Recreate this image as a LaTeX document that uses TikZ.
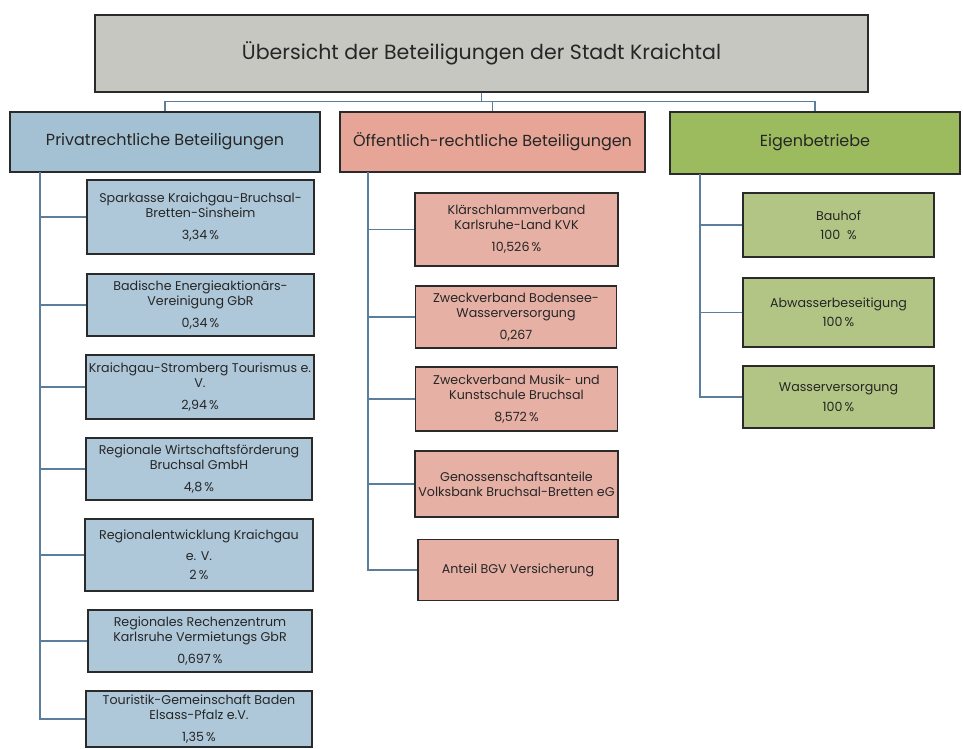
\documentclass[tikz,border=0pt]{standalone}
\usepackage{fontspec}
\setmainfont{Poppins}
\definecolor{titlegray}{HTML}{C6C7C0}
\definecolor{bluehead}{HTML}{A3C1D3}
\definecolor{bluebox}{HTML}{AEC8D9}
\definecolor{pinkhead}{HTML}{E6A596}
\definecolor{pinkbox}{HTML}{E6B0A5}
\definecolor{greenhead}{HTML}{9CBA5E}
\definecolor{greenbox}{HTML}{B2C584}
\definecolor{connc}{HTML}{5B7E9C}
\definecolor{edgec}{HTML}{2A2A2A}
\tikzset{
  sz/.style 2 args={minimum width=#1*0.75pt, minimum height=#2*0.75pt},
  basebox/.style={draw=edgec, line width=1.1pt, inner sep=1pt, align=center, text=black!85},
  titlebox/.style={basebox, fill=titlegray, font=\fontsize{15.4}{18}\selectfont},
  headbox/.style={basebox, font=\fontsize{12}{14}\selectfont},
  childbox/.style={basebox, font=\fontsize{9.5}{11.5}\selectfont},
  conn/.style={draw=connc, line width=1pt},
}
\begin{document}
\begin{tikzpicture}[x=0.75pt,y=-0.75pt]
\path[use as bounding box, fill=white] (0,0) rectangle (963,749);

% title
\node[titlebox, sz={773}{77}] (title) at (481.5,53.5) {Übersicht der Beteiligungen der Stadt Kraichtal};

% headers
\node[headbox, fill=bluehead, sz={310}{60}] (h1) at (165,142) {Privatrechtliche Beteiligungen};
\node[headbox, fill=pinkhead, sz={305}{60}] (h2) at (492.5,142) {Öffentlich-rechtliche Beteiligungen};
\node[headbox, fill=greenhead, sz={290}{62}] (h3) at (815,143) {Eigenbetriebe};

\draw[conn] (title.south) -- ++(0,9) -| (h1.north);
\draw[conn] (title.south) -- ++(0,9) -| (h2.north);
\draw[conn] (title.south) -- ++(0,9) -| (h3.north);

% private children
\node[childbox, fill=bluebox, sz={227}{74}] (p1) at (200.5,217) {Sparkasse Kraichgau-Bruchsal-\\Bretten-Sinsheim\\[5pt]3,34\,\%};
\node[childbox, fill=bluebox, sz={227}{62}] (p2) at (200.5,305) {Badische Energieaktionärs-\\Vereinigung GbR\\[5pt]0,34\,\%};
\node[childbox, fill=bluebox, sz={228}{64}] (p3) at (200,387) {Kraichgau-Stromberg Tourismus e.\\V.\\[5pt]2,94\,\%};
\node[childbox, fill=bluebox, sz={226}{62}] (p4) at (199,469) {Regionale Wirtschaftsförderung\\Bruchsal GmbH\\[5pt]4,8\,\%};
\node[childbox, fill=bluebox, sz={228}{72}] (p5) at (199,555) {Regionalentwicklung Kraichgau\\[4pt]e. V.\\[3pt]2\,\%};
\node[childbox, fill=bluebox, sz={224}{62}] (p6) at (200,641) {Regionales Rechenzentrum\\Karlsruhe Vermietungs GbR\\[5pt]0,697\,\%};
\node[childbox, fill=bluebox, sz={226}{56}] (p7) at (199,719) {Touristik-Gemeinschaft Baden\\Elsass-Pfalz e.V.\\[5pt]1,35\,\%};

\coordinate (s1) at (40,172);
\foreach \c in {p1,p2,p3,p4,p5,p6,p7} \draw[conn] (s1) |- (\c.west);

% public children
\node[childbox, fill=pinkbox, sz={203}{73}] (o1) at (516.5,229.5) {Klärschlammverband\\Karlsruhe-Land KVK\\[5pt]10,526\,\%};
\node[childbox, fill=pinkbox, sz={201}{62}] (o2) at (516,317) {Zweckverband Bodensee-\\Wasserversorgung\\[5pt]0,267};
\node[childbox, fill=pinkbox, sz={202}{64}] (o3) at (516.5,399) {Zweckverband Musik- und\\Kunstschule Bruchsal\\[5pt]8,572\,\%};
\node[childbox, fill=pinkbox, sz={203}{66}] (o4) at (516.5,484) {Genossenschaftsanteile\\Volksbank Bruchsal-Bretten eG};
\node[childbox, fill=pinkbox, sz={200}{61}] (o5) at (518,570) {Anteil BGV Versicherung};

\coordinate (s2) at (368,172);
\foreach \c in {o1,o2,o3,o4,o5} \draw[conn] (s2) |- (\c.west);

% own enterprises
\node[childbox, fill=greenbox, sz={191}{64}] (e1) at (838.5,225) {Bauhof\\[3pt]100 ~\%};
\node[childbox, fill=greenbox, sz={191}{69}] (e2) at (838.5,312.5) {Abwasserbeseitigung\\[3pt]100\,\%};
\node[childbox, fill=greenbox, sz={191}{62}] (e3) at (838.5,397) {Wasserversorgung\\[3pt]100\,\%};

\coordinate (s3) at (700,174);
\foreach \c in {e1,e2,e3} \draw[conn] (s3) |- (\c.west);
\end{tikzpicture}
\end{document}
